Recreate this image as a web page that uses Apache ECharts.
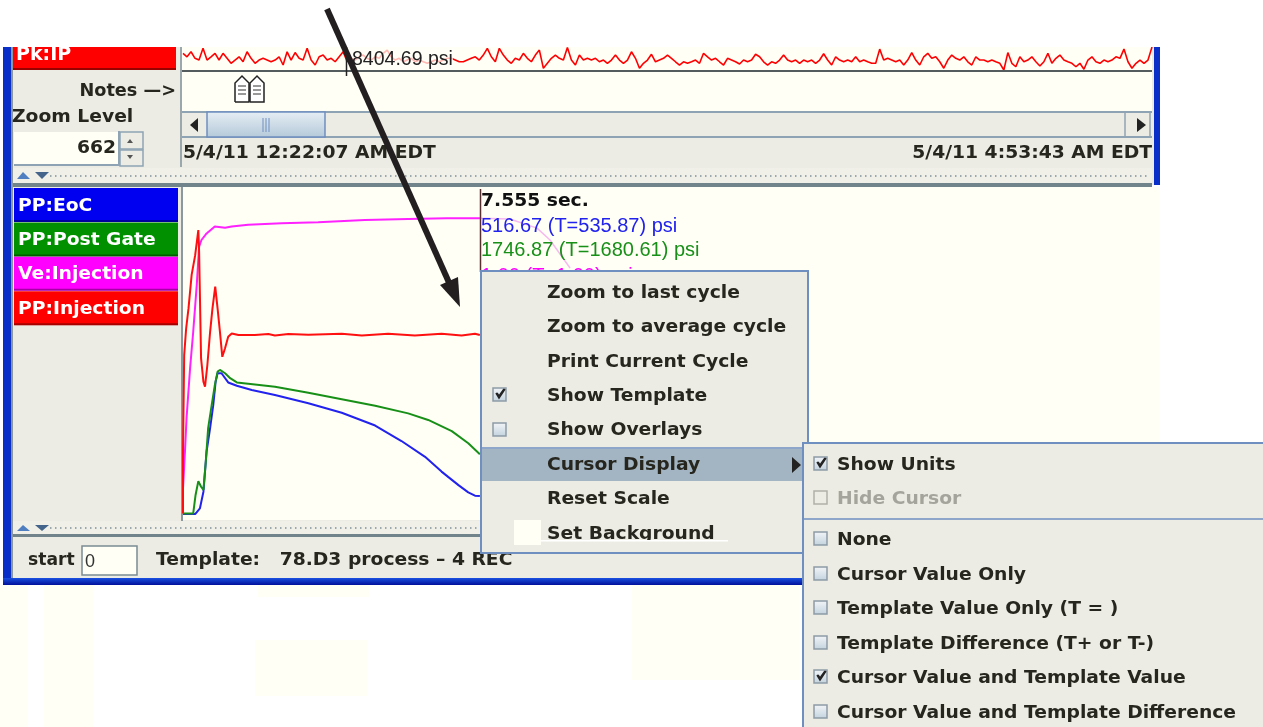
<!DOCTYPE html>
<html>
<head>
<meta charset="utf-8">
<style>
	html, body { margin: 0; padding: 0; background: #fff; }
	#chartBox { width: 1263px; height: 727px; }
</style>
<script src="https://cdn.jsdelivr.net/npm/echarts@6/dist/echarts.min.js"></script>
</head>
<body>
<div id="chartBox"></div>
<script>
// Pk:IP trend strip, one value per sample (psi)
var pkValues = [8427,8409,8435,8401,8392,8453,8392,8409,8427,8392,8427,8401,8375,8392,8409,8383,8435,8401,8375,8392,
	8401,8392,8383,8392,8409,8366,8435,8392,8431,8401,8392,8453,8392,8366,8409,8418,8392,8401,8383,8409,
	8435,8383,8401,8392,8409,8418,8401,8392,8409,8401,8427,8444,8409,8392,8401,8383,8392,8401,8383,8392,
	8383,8375,8383,8392,8383,8392,8401,8401,8392,8383,8383,8392,8401,8409,8392,8418,8453,8409,8383,8453,
	8418,8392,8375,8401,8392,8427,8401,8383,8418,8444,8349,8375,8401,8418,8401,8392,8457,8392,8366,8418,
	8392,8401,8392,8401,8383,8392,8375,8392,8418,8392,8375,8392,8435,8401,8349,8375,8392,8422,8383,8392,
	8401,8418,8401,8383,8366,8383,8375,8383,8392,8375,8427,8409,8392,8401,8383,8366,8401,8392,8383,8371,
	8392,8383,8392,8422,8409,8383,8366,8383,8375,8392,8418,8392,8383,8392,8375,8392,8383,8392,8375,8392,
	8425,8392,8366,8409,8392,8383,8392,8383,8409,8383,8392,8383,8375,8375,8449,8392,8401,8392,8383,8392,
	8366,8392,8431,8392,8366,8409,8427,8401,8409,8383,8349,8392,8418,8401,8392,8409,8383,8366,8409,8392,
	8392,8383,8392,8383,8375,8340,8431,8375,8357,8409,8383,8392,8409,8383,8361,8383,8427,8375,8401,8418,
	8392,8383,8375,8357,8375,8344,8392,8409,8383,8375,8392,8383,8392,8409,8401,8449,8383,8349,8375,8392,
	8375,8392,8460];

// cycle traces: time in seconds, value in percent of the trace scale
var redTimes = [0,0,0.03,0.08,0.14,0.22,0.31,0.39,0.41,0.46,0.52,0.56,0.62,0.69,0.75,0.82,0.88,0.94,1.00,1.07,1.15,1.24,1.41,1.83,2.17,2.34,2.68,3.19,4.04,4.55,5.22,5.90,6.58,7.09,7.43,7.555];
var redValues = [1.4,20.2,49.5,57.6,63.7,73.9,79.9,87.5,81.0,48.5,41.4,39.9,46.5,56.6,63.7,70.3,63.7,56.6,49.0,51.6,55.1,56.1,55.6,55.6,55.9,55.5,55.9,55.7,56.0,55.5,56.0,55.5,56.0,55.5,56.0,55.6];

var magentaTimes = [0,0.05,0.09,0.18,0.26,0.35,0.41,0.47,0.60,0.81,1.07,1.24,1.66,2.51,3.44,4.63,5.73,6.71,7.555];
var magentaValues = [9.0,20.2,30.3,45.5,56.6,70.8,82.5,84.5,86.5,88.6,88.2,88.6,89.1,89.6,89.9,90.6,90.9,91.1,91.1];
var magentaFadeTimes = [7.555,8.32,9.01,9.34,9.85];
var magentaFadeValues = [91.1,90.9,88.1,84.5,76.0];

var greenTimes = [0,0.26,0.32,0.39,0.46,0.52,0.58,0.64,0.73,0.81,0.88,0.94,1.07,1.20,1.37,1.83,2.34,3.19,4.04,4.89,5.73,6.24,6.84,7.26,7.555];
var greenValues = [1.4,1.4,7.0,11.2,9.5,8.5,17.1,27.3,34.3,40.4,44.5,45.0,44.0,42.5,41.2,40.6,39.9,38.1,36.1,34.1,31.8,29.8,26.4,22.7,19.4];

var blueTimes = [0,0.31,0.43,0.52,0.60,0.69,0.77,0.83,0.88,0.98,1.15,1.37,1.75,2.34,3.19,4.04,4.89,5.56,6.16,6.58,7.01,7.26,7.43,7.555];
var blueValues = [1.2,1.2,2.9,8.0,20.2,27.3,34.3,41.4,44.0,44.0,41.2,40.2,38.9,37.4,34.9,32.0,28.1,23.4,18.6,14.1,10.0,7.8,6.8,6.7];

// texts
var legendNames = ['PP:EoC', 'PP:Post Gate', 'Ve:Injection', 'PP:Injection'];
var legendColors = ['#0000f0', '#009000', '#ff00ff', '#ff0000'];
var menuItems = ['Zoom to last cycle', 'Zoom to average cycle', 'Print Current Cycle', 'Show Template', 'Show Overlays', 'Cursor Display', 'Reset Scale', 'Set Background'];
var subItems = ['Show Units', 'Hide Cursor', 'None', 'Cursor Value Only', 'Template Value Only (T = )', 'Template Difference (T+ or T-)', 'Cursor Value and Template Value', 'Cursor Value and Template Difference'];

function pairs(xs, ys) {
	return xs.map(function (x, i) { return [x, ys[i]]; });
}

var BOLD = 'bold 17.5px "DejaVu Sans"';
var READOUT = '20px "Liberation Sans"';
var PANEL = '#ecece4';
var CREAM = '#fffff6';
var EDGE = '#6f8fc0';
var INK = '#26261f';

var items = [];
function rect(x, y, w, h, fill, z) {
	items.push({ type: 'rect', silent: true, z: z || 0, shape: { x: x, y: y, width: w, height: h }, style: { fill: fill } });
}
function label(text, x, y, font, fill, z, align, scale) {
	var f = font || BOLD;
	items.push({
		type: 'text', silent: true, z: z || 1, x: x, y: y + 2,
		scaleX: scale || (f === BOLD ? 1.07 : 1),
		style: { text: text, font: f, fill: fill || INK, align: align || 'left', verticalAlign: 'middle' }
	});
}
function line(x1, y1, x2, y2, stroke, width, z, dash) {
	items.push({ type: 'line', silent: true, z: z || 1, shape: { x1: x1, y1: y1, x2: x2, y2: y2 }, style: { stroke: stroke, lineWidth: width || 1, lineDash: dash } });
}
function poly(points, fill, z, stroke) {
	items.push({ type: stroke ? 'polyline' : 'polygon', silent: true, z: z || 1, shape: { points: points }, style: stroke ? { stroke: stroke, lineWidth: 1.5, fill: fill || 'none' } : { fill: fill } });
}
function gradient(c1, c2) {
	return new echarts.graphic.LinearGradient(0, 0, 0, 1, [{ offset: 0, color: c1 }, { offset: 1, color: c2 }]);
}
function checkbox(x, y, checked, z, muted) {
	items.push({ type: 'rect', silent: true, z: z, shape: { x: x, y: y, width: 13, height: 13 }, style: { fill: muted ? PANEL : gradient('#f4f6f8', '#c2d2de'), stroke: muted ? '#b0b0a8' : '#8d9aa6', lineWidth: 1.5 } });
	if (checked) {
		poly([[x + 3, y + 5], [x + 6, y + 10], [x + 12, y + 1]], 'none', z + 1, '#222');
		poly([[x + 4, y + 5], [x + 6, y + 8], [x + 11, y + 1]], 'none', z + 1, '#222');
	}
}

// faint cream patches on the page behind the window
rect(0, 585, 28, 142, '#fffff5');
rect(44, 585, 49, 142, '#fffff5');
rect(258, 585, 111, 12, '#fffff5');
rect(255, 640, 112, 56, '#fffff5');
rect(632, 585, 168, 95, '#fffff5');

// window body
rect(3, 47, 1157, 138, PANEL);
rect(3, 185, 800, 400, PANEL);
rect(3, 47, 8, 538, '#0a2fc8');
rect(11, 47, 2, 531, '#8b989e');
rect(1154, 47, 6, 138, '#0a2fc8');
rect(3, 578, 805, 7, gradient('#1a50e0', '#00109a'));

// upper pane
rect(13, 47, 163, 23, '#ff0000');
rect(13, 68, 163, 2, '#990000');
label('Pk:IP', 16, 53, 'bold 19px "DejaVu Sans"', '#fff');
rect(180, 47, 2, 120, '#9aa7ac');
rect(182, 47, 970, 24, CREAM, 0);
rect(182, 70, 970, 2, '#555c5e', 3);
rect(182, 72, 970, 39, CREAM);
label('Notes \u2014>', 176, 89, BOLD, INK, 1, 'right', 1.01);
label('Zoom Level', 12, 115);

// book icon of the notes row
poly([[235, 102], [235, 83], [242, 76], [249, 83], [249, 102], [235, 102]], '#fff', 1, '#222');
poly([[250, 102], [250, 83], [257, 76], [264, 83], [264, 102], [250, 102]], '#fff', 1, '#222');
[86, 90, 94].forEach(function (y) {
	line(238, y, 246, y, '#333', 1);
	line(253, y, 261, y, '#333', 1);
});

// scrollbar
rect(182, 111, 970, 2, '#8ea4b4');
rect(182, 136, 970, 2, '#8ea4b4');
rect(183, 113, 967, 23, PANEL);
items.push({ type: 'rect', silent: true, z: 1, shape: { x: 207, y: 112, width: 118, height: 25 }, style: { fill: gradient('#e6eef4', '#b4c9d9'), stroke: '#6f8fc0', lineWidth: 1.5 } });
[263, 266, 269].forEach(function (x) { line(x, 118, x, 132, '#6f8fc0', 1, 2); });
poly([[190, 125], [198, 118], [198, 132]], '#222');
line(1125, 113, 1125, 137, '#8ea4b4', 1.5);
line(1150, 113, 1150, 137, '#8ea4b4', 1.5);
poly([[1146, 125], [1137, 118], [1137, 132]], '#222');

// zoom spinner
rect(14, 132, 104, 33, CREAM);
rect(14, 164, 104, 2, '#8ea4b4');
rect(118, 131, 2, 35, '#8ea4b4');
label('662', 116, 146, BOLD, INK, 1, 'right');
items.push({ type: 'rect', silent: true, z: 1, shape: { x: 120, y: 132, width: 23, height: 17 }, style: { fill: PANEL, stroke: '#8ea4b4', lineWidth: 1.5 } });
items.push({ type: 'rect', silent: true, z: 1, shape: { x: 120, y: 150, width: 23, height: 16 }, style: { fill: PANEL, stroke: '#8ea4b4', lineWidth: 1.5 } });
poly([[127, 143], [130, 139], [133, 143]], '#555');
poly([[127, 155], [130, 159], [133, 155]], '#555');

label('5/4/11 12:22:07 AM EDT', 183, 151);
label('5/4/11 4:53:43 AM EDT', 1152, 151, BOLD, INK, 1, 'right');

// divider between panes
rect(13, 168, 1139, 15, '#f0f0e8');
rect(13, 183, 1139, 4, '#71848c');
line(50, 176, 1150, 176, '#9aa8ae', 2, 1, [1.5, 3.5]);
poly([[17, 179], [23, 172], [30, 179]], '#4f7fc0');
poly([[35, 172], [49, 172], [42, 179]], '#44648c');

// lower pane legend
legendNames.forEach(function (name, i) {
	var top = 188 + i * 34.4;
	rect(14, top, 164, 34, legendColors[i]);
	rect(14, top + 32, 164, 2, 'rgba(0,0,0,0.35)');
	label(name, 18, top + 16, 'bold 18px "DejaVu Sans"', '#fff', 1, 'left', 1.04);
});

// plot background and cursor
rect(183, 187, 977, 256, CREAM);
rect(183, 443, 620, 77, CREAM);
rect(181, 187, 2, 335, '#8b989e');
line(480.5, 189, 480.5, 272, '#5a2f2f', 1.5, 4);
label('7.555 sec.', 481, 199, BOLD, '#111', 4);
label('516.67 (T=535.87) psi', 481, 224, READOUT, '#2222ee', 4);
label('1746.87 (T=1680.61) psi', 481, 248, READOUT, '#189018', 4);
label('1.00 (T=1.00) psi', 481, 274, READOUT, '#ff00ff', 4);

// strip cursor and its readout
rect(350, 47, 103, 23, 'rgba(255,255,246,0.72)', 4);
line(346.5, 47, 346.5, 76, '#222', 1.5, 5);
label('8404.69 psi', 352, 58, '19.5px "Liberation Sans"', '#222', 5);

// lower divider and footer
rect(13, 521, 468, 14, '#f0f0e8');
rect(13, 534, 468, 3, '#71848c');
line(50, 528, 480, 528, '#9aa8ae', 2, 1, [1.5, 3.5]);
poly([[17, 531], [23, 525], [30, 531]], '#4f7fc0');
poly([[35, 525], [49, 525], [42, 531]], '#44648c');
label('start', 28, 558, BOLD, INK, 1, 'left', 0.98);
items.push({ type: 'rect', silent: true, z: 1, shape: { x: 82, y: 546, width: 55, height: 29 }, style: { fill: CREAM, stroke: '#7a8c94', lineWidth: 1.5 } });
label('0', 85, 560, '18px "Liberation Sans"', '#333');
label('Template:   78.D3 process \u2013 4 REC', 156, 558);

// popup menu
items.push({ type: 'rect', silent: true, z: 10, shape: { x: 481, y: 271, width: 327, height: 282 }, style: { fill: PANEL, stroke: EDGE, lineWidth: 2 } });
rect(482, 449, 322, 32, '#a3b5c3', 11);
line(481, 448, 804, 448, EDGE, 1.5, 12);
var menuRows = [291, 325, 360, 394, 428, 463, 497, 532];
menuItems.forEach(function (text, i) {
	label(text, 547, menuRows[i], BOLD, INK, 12);
});
checkbox(493, 388, true, 12);
checkbox(493, 423, false, 12);
poly([[792, 457], [801, 465], [792, 473]], '#222', 12);
// the stray paste-over at the bottom of the menu
rect(514, 520, 27, 25, CREAM, 13);
rect(541, 541, 190, 11, PANEL, 13);
rect(541, 540, 187, 1.5, '#ffffff', 13);

// cascading submenu
items.push({ type: 'rect', silent: true, z: 14, shape: { x: 803, y: 443, width: 462, height: 290 }, style: { fill: PANEL, stroke: EDGE, lineWidth: 2 } });
line(803, 519, 1263, 519, EDGE, 1.5, 15);
var subRows = [463, 497, 538, 573, 607, 642, 676, 711];
subItems.forEach(function (text, i) {
	label(text, 837, subRows[i], BOLD, i === 1 ? '#a4a49c' : INK, 15);
	checkbox(814, subRows[i] - 6, i === 0 || i === 6, 15, i === 1);
});

// white paper above the window, cuts the clipped top row
rect(0, 0, 1263, 47, '#ffffff', 18);

// big annotation arrow
line(327, 9, 455, 296, '#231f20', 6, 20);
poly([[460, 307], [440, 285], [458, 277]], '#231f20', 20);

var myChart = echarts.init(document.getElementById('chartBox'));
var option = {
	animation: false,
	backgroundColor: '#ffffff',
	graphic: { elements: items },
	grid: [
		{ left: 183, top: 47, width: 969, height: 23 },
		{ left: 183, top: 189, width: 969, height: 329 }
	],
	xAxis: [
		{ type: 'value', gridIndex: 0, min: 0, max: pkValues.length - 1, show: false },
		{ type: 'value', gridIndex: 1, min: 0, max: 24.66, show: false }
	],
	yAxis: [
		{ type: 'value', gridIndex: 0, min: 8340, max: 8460, show: false },
		{ type: 'value', gridIndex: 1, min: 0, max: 100, show: false }
	],
	series: [
		{
			name: 'Pk:IP', type: 'line', xAxisIndex: 0, yAxisIndex: 0, z: 2, showSymbol: false, silent: true,
			lineStyle: { color: '#ff0000', width: 1.6 },
			data: pkValues.map(function (v, i) { return [i, v]; })
		},
		{
			name: 'Ve:Injection template', type: 'line', xAxisIndex: 1, yAxisIndex: 1, z: 2, showSymbol: false, silent: true,
			lineStyle: { color: '#f6b8ee', width: 1.5 },
			data: pairs(magentaFadeTimes, magentaFadeValues)
		},
		{
			name: 'Ve:Injection', type: 'line', xAxisIndex: 1, yAxisIndex: 1, z: 3, showSymbol: false, silent: true,
			lineStyle: { color: '#ff22ff', width: 2 },
			data: pairs(magentaTimes, magentaValues)
		},
		{
			name: 'PP:Injection', type: 'line', xAxisIndex: 1, yAxisIndex: 1, z: 3, showSymbol: false, silent: true,
			lineStyle: { color: '#ff1010', width: 2 },
			data: pairs(redTimes, redValues)
		},
		{
			name: 'PP:EoC', type: 'line', xAxisIndex: 1, yAxisIndex: 1, z: 3, showSymbol: false, silent: true,
			lineStyle: { color: '#2222ee', width: 2 },
			data: pairs(blueTimes, blueValues)
		},
		{
			name: 'PP:Post Gate', type: 'line', xAxisIndex: 1, yAxisIndex: 1, z: 3, showSymbol: false, silent: true,
			lineStyle: { color: '#189018', width: 2 },
			data: pairs(greenTimes, greenValues)
		}
	]
};
myChart.setOption(option);
</script>
</body>
</html>
